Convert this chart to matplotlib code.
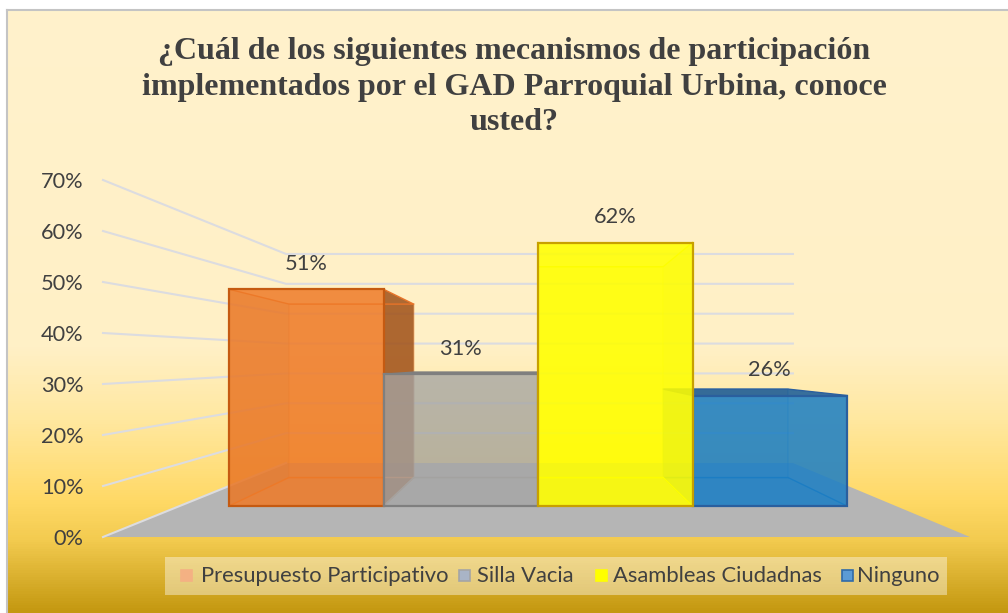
import numpy as np
import matplotlib
matplotlib.use("Agg")
import matplotlib.pyplot as plt
from matplotlib.colors import LinearSegmentedColormap
from matplotlib.patches import Rectangle

# datos
categorias = ["Presupuesto Participativo", "Silla Vacia", "Asambleas Ciudadnas", "Ninguno"]
valores = [0.51, 0.31, 0.62, 0.26]
etiquetas = ["51%", "31%", "62%", "26%"]
ticks = [0, 0.1, 0.2, 0.3, 0.4, 0.5, 0.6, 0.7]
titulo = "¿Cuál de los siguientes mecanismos de participación\nimplementados por el GAD Parroquial Urbina, conoce\nusted?"

# estilo de cada barra: frente, borde, arista interior, tapa, lado
frente = ["#ee7a28", "#a5a5a5", "#ffff00", "#1f80c4"]
borde = ["#c55a11", "#7f7f7f", "#c8a000", "#2a5f9e"]
interior = ["#e8752a", "#a09c96", "#f8f810", "#0f6fc0"]
tapa = ["#ee7a28", "#6f6f6f", "#ffff30", "#1c5a94"]
lado = ["#9a4c14", "#8f8f8f", "#d8d800", "#1c75b8"]
alfa = [0.82, 0.72, 0.85, 0.85]
tapa_alfa = [0.15, 0.85, 0.15, 0.85]
lado_alfa = [0.8, 0.3, 0.2, 0.15]
orden = [0, 3, 1, 2]

# perspectiva, en unidades de los ejes
base_f, k_f = 31 / 510, 425 / 510      # plano frontal
base_b, k_b = 59.5 / 510, 340 / 510    # plano trasero de las barras
base_w, k_w = 74 / 510, 298.6 / 510    # pared del fondo
razon = 0.8074
wall_x0, wall_x1 = -0.131, 3.15


def bx(e):
    return 0.388 + (e + 0.5) * razon - 0.5


def yf(v):
    return base_f + v * k_f


def yb(v):
    return base_b + v * k_b


fig = plt.figure(figsize=(10.08, 6.13), dpi=100, facecolor="white")
plt.rcParams["font.family"] = ["Lato", "DejaVu Sans"]

# fondo degradado
bg = fig.add_axes([7 / 1008, 0, 1001 / 1008, 603 / 613])
paradas = [(0.0, "#fff2cc"), (0.56, "#fff0c6"), (0.68, "#ffe8a0"), (0.815, "#ffd966"),
           (0.88, "#f3cb50"), (1.0, "#c49810")]
cmap = LinearSegmentedColormap.from_list("fondo", paradas)
bg.imshow(np.linspace(0, 1, 603)[:, None], cmap=cmap, aspect="auto", extent=(7, 1008, 613, 10), vmin=0, vmax=1)
bg.set_xticks([])
bg.set_yticks([])
for s in ["right", "bottom"]:
    bg.spines[s].set_visible(False)
for s in ["left", "top"]:
    bg.spines[s].set_color("#c4c4c4")
    bg.spines[s].set_linewidth(1.5)

bg.text(514, 87, titulo, ha="center", va="center", fontsize=23, fontweight="bold",
        family="Liberation Serif", color="#404040", linespacing=1.28)

# leyenda
bg.add_patch(Rectangle((165, 557), 782, 38, facecolor="#ffffff", alpha=0.4, edgecolor="none"))
ley_color = ["#f4b183", "#a9b4c6", "#ffff00", "#5b9bd5"]
ley_borde = ["#f4b183", "#a5a5a5", "#ffff00", "#2f6aa8"]
ley_x = [181, 459, 596, 842]
ley_t = [201, 477, 613, 857]
for c, col, bor, mx, tx in zip(categorias, ley_color, ley_borde, ley_x, ley_t):
    bg.add_patch(Rectangle((mx, 570), 11, 11, facecolor=col, edgecolor=bor, linewidth=1.2))
    bg.text(tx, 576, c, va="center", ha="left", fontsize=15.8, color="#404040")

# ejes principales
ax = fig.add_axes([103 / 1008, (613 - 537) / 613, 867 / 1008, 357 / 613])
ax.patch.set_alpha(0)
ax.set_xlim((103 - 229) / 154.5 - 0.5, (970 - 229) / 154.5 - 0.5)
ax.set_ylim(0, 0.7)
ax.set_xticks([])
ax.set_yticks(ticks)
ax.set_yticklabels([f"{int(round(t * 100))}%" for t in ticks], fontsize=15.7, color="#404040")
ax.tick_params(axis="y", length=0, pad=14)
for s in ax.spines.values():
    s.set_visible(False)

x0, x1 = ax.get_xlim()

# suelo
ax.fill([x0, x1, wall_x1, wall_x0], [0, 0, base_w, base_w], color="#b5b5b5", lw=0, zorder=1)

# lineas de rejilla
for t in ticks:
    yw = base_w + t * k_w
    if t == 0:
        ax.plot([x0, wall_x0], [0, yw], color="#dcdce0", lw=1.5, zorder=1.5, clip_on=False)
        continue
    ax.plot([x0, wall_x0, wall_x1], [t, yw, yw], color="#dcdce0", lw=1.5, zorder=1.5, clip_on=False)

# barras
z = 2
for i in orden:
    v = valores[i]
    e0, e1 = i - 0.5, i + 0.5
    b0, b1 = bx(e0), bx(e1)
    a = alfa[i]
    # cara trasera
    ax.bar(bx(i), v * k_b, width=razon, bottom=base_b, color=frente[i], alpha=a * 0.3,
           edgecolor=interior[i], linewidth=1.2, zorder=z)
    # suelo, tapa y lados
    ax.fill([e0, e1, b1, b0], [yf(0), yf(0), yb(0), yb(0)], color=frente[i], alpha=a * 0.3, lw=0, zorder=z + 0.1)
    ax.fill([e0, e1, b1, b0], [yf(v), yf(v), yb(v), yb(v)], color=tapa[i], alpha=tapa_alfa[i], lw=0, zorder=z + 0.2)
    ax.fill([e1, b1, b1, e1], [yf(0), yb(0), yb(v), yf(v)], color=lado[i], alpha=lado_alfa[i], lw=0, zorder=z + 0.3)
    ax.fill([e0, b0, b0, e0], [yf(0), yb(0), yb(v), yf(v)], color=lado[i], alpha=a * 0.3, lw=0, zorder=z + 0.3)
    # aristas interiores
    ax.plot([e0, b0, b1, e1], [yf(0), yb(0), yb(0), yf(0)], color=interior[i], lw=1.0, zorder=z + 0.4)
    ax.plot([e0, b0, b1, e1], [yf(v), yb(v), yb(v), yf(v)], color=interior[i] if tapa_alfa[i] < 0.5 else borde[i],
            lw=1.0, zorder=z + 0.4)
    # cara frontal
    ax.bar(i, v * k_f, width=1, bottom=base_f, color=frente[i], alpha=a, edgecolor="none", zorder=z + 0.5)
    ax.bar(i, v * k_f, width=1, bottom=base_f, fill=False, edgecolor=borde[i], linewidth=1.6, zorder=z + 0.6)
    z += 1

for i, (v, lab) in enumerate(zip(valores, etiquetas)):
    ax.annotate(lab, (i, yf(v)), xytext=(0, 18), textcoords="offset points", ha="center", va="center",
                fontsize=15.7, color="#404040", zorder=10)

fig.savefig("out.png", dpi=100)
